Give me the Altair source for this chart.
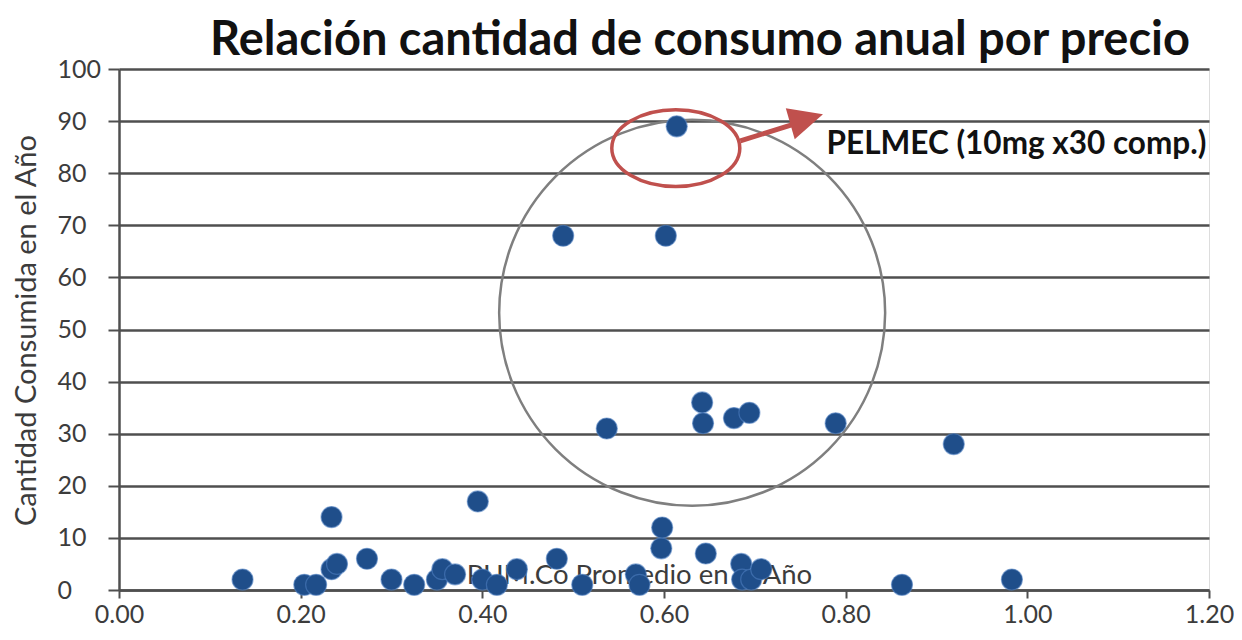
import altair as alt
import pandas as pd

# Data
precio = [0.136, 0.204, 0.217, 0.234, 0.234, 0.240, 0.273, 0.300, 0.325, 0.350,
          0.356, 0.370, 0.395, 0.400, 0.416, 0.438, 0.482, 0.489, 0.510, 0.537,
          0.569, 0.573, 0.597, 0.598, 0.602, 0.614, 0.642, 0.643, 0.646, 0.677,
          0.685, 0.686, 0.694, 0.696, 0.707, 0.789, 0.862, 0.919, 0.983]
cantidad = [2, 1, 1, 14, 4, 5, 6, 2, 1, 2,
            4, 3, 17, 2, 1, 4, 6, 68, 1, 31,
            3, 1, 8, 12, 68, 89, 36, 32, 7, 33,
            5, 2, 34, 2, 4, 32, 1, 28, 2]

x_ticks = [0.0, 0.2, 0.4, 0.6, 0.8, 1.0, 1.2]
y_ticks = [0, 10, 20, 30, 40, 50, 60, 70, 80, 90, 100]

titulo = "Relación cantidad de consumo anual por precio"
titulo_y = "Cantidad Consumida en el Año"
titulo_x = "PUM.Co Promedio en el Año"
etiqueta = "PELMEC (10mg x30 comp.)"

# Annotation anchors (data coordinates)
circulo_x, circulo_y = [0.631], [53.2]
elipse_x, elipse_y = [0.613], [84.8]
flecha_x, flecha_y, flecha_x2, flecha_y2 = [0.684], [86.2], [0.752], [89.9]
punta_x, punta_y = [0.757], [90.4]
etiqueta_x, etiqueta_y = [0.779], [85.4]
titulo_x_pos, titulo_y_pos = [0.573], [2.6]

FONT = "Lato"
BLUE = "#1F4E8A"
RED = "#C0504D"
GRID = "#4f4f4f"
TXT = "#3c3c3c"

df = pd.DataFrame({"precio": precio, "cantidad": cantidad})

xs = alt.Scale(domain=[0, 1.2], nice=False, zero=False)
ys = alt.Scale(domain=[0, 100], nice=False)

x_axis = alt.Axis(values=x_ticks, format=".2f", grid=False, title=None,
                  domainColor=GRID, domainWidth=2.5, tickColor=GRID, tickWidth=2,
                  tickSize=8, labelFont=FONT, labelFontSize=25, labelColor=TXT,
                  labelPadding=4, labelFlush=False, labelOverlap=False)
y_axis = alt.Axis(values=y_ticks, grid=True, gridColor=GRID, gridWidth=2.5,
                  domainColor=GRID, domainWidth=2.5, tickColor=GRID, tickWidth=2,
                  tickSize=11, labelFont=FONT, labelFontSize=25, labelColor=TXT,
                  labelAlign="left", labelPadding=51, labelFlush=False,
                  labelOverlap=False,
                  title=titulo_y, titleFont=FONT, titleFontSize=29,
                  titleFontWeight="normal", titleColor=TXT, titleAngle=-90,
                  titleX=-93, titleY=261, titleAlign="center", titleBaseline="middle")

base_pts = alt.Chart(df).encode(
    x=alt.X("precio:Q", scale=xs, axis=x_axis),
    y=alt.Y("cantidad:Q", scale=ys, axis=y_axis),
)

def one(xv, yv, extra=None):
    d = {"x": xv, "y": yv}
    if extra:
        d.update(extra)
    return pd.DataFrame(d)

xtitle = alt.Chart(one(titulo_x_pos, titulo_y_pos, {"t": [titulo_x]})).mark_text(
    font=FONT, fontSize=27.5, color=TXT, align="center", baseline="middle"
).encode(x=alt.X("x:Q", scale=xs), y=alt.Y("y:Q", scale=ys), text="t:N")

circle = alt.Chart(one(circulo_x, circulo_y)).mark_point(
    shape="circle", size=148996, filled=False, stroke="#7f7f7f", strokeWidth=2.5, opacity=1
).encode(x=alt.X("x:Q", scale=xs), y=alt.Y("y:Q", scale=ys))

points = base_pts.mark_circle(size=440, color=BLUE, opacity=1,
                              stroke="#4f7fbf", strokeWidth=1.2, strokeOpacity=0.6)

ellipse = alt.Chart(one(elipse_x, elipse_y)).mark_point(
    shape="M -1 0 A 1 0.6 0 1 0 1 0 A 1 0.6 0 1 0 -1 0 Z", size=16384,
    filled=False, stroke=RED, strokeWidth=3.5, opacity=1
).encode(x=alt.X("x:Q", scale=xs), y=alt.Y("y:Q", scale=ys))

arrow_line = alt.Chart(pd.DataFrame({"x": flecha_x, "y": flecha_y,
                                     "x2": flecha_x2, "y2": flecha_y2})).mark_rule(
    color=RED, strokeWidth=5
).encode(x=alt.X("x:Q", scale=xs), y=alt.Y("y:Q", scale=ys), x2="x2:Q", y2="y2:Q")

arrow_head = alt.Chart(one(punta_x, punta_y)).mark_point(
    shape="M 1 0 L -1 -0.95 L -1 0.95 Z", size=1156, angle=344,
    filled=True, fill=RED, stroke=RED, strokeWidth=0, opacity=1
).encode(x=alt.X("x:Q", scale=xs), y=alt.Y("y:Q", scale=ys))

label = alt.Chart(one(etiqueta_x, etiqueta_y, {"t": [etiqueta]})).mark_text(
    font=FONT, fontSize=31.5, fontWeight="bold", color="#111111", align="left",
    baseline="middle"
).encode(x=alt.X("x:Q", scale=xs), y=alt.Y("y:Q", scale=ys), text="t:N")

chart = alt.layer(xtitle, circle, points, ellipse, arrow_line, arrow_head, label).properties(
    width=1090, height=521,
    autosize=alt.AutoSizeParams(type="none"),
    padding={"left": 111, "top": 61, "right": 25, "bottom": 38},
    title=alt.TitleParams(titulo, font=FONT, fontSize=47, fontWeight="bold",
                          color="#111111", anchor="middle", frame="group", dx=36,
                          offset=-8),
).configure_view(stroke=None).configure(background="white")

chart.save("out.html", embed_options={"renderer": "svg", "actions": False})
